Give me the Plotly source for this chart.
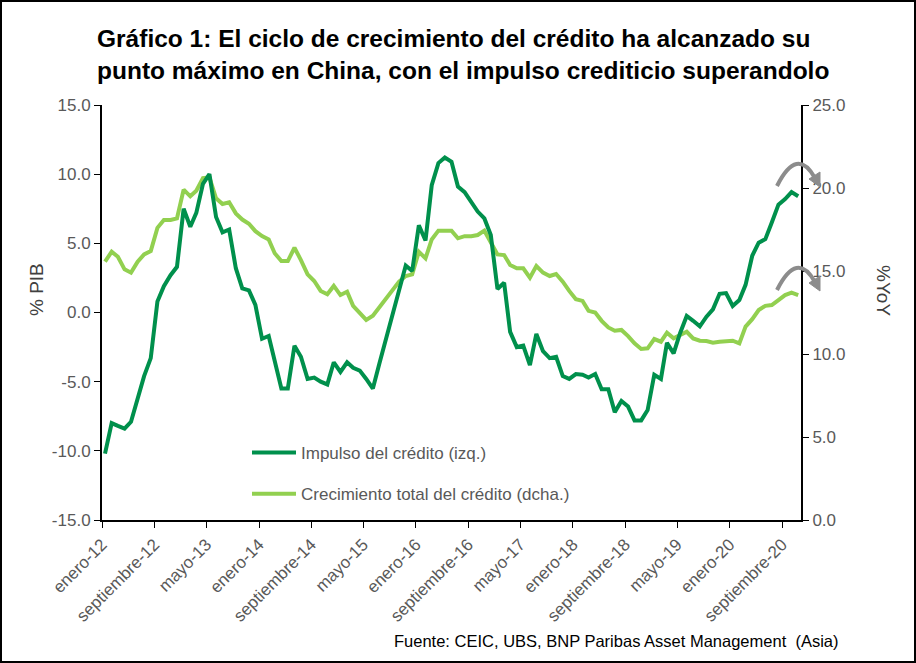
import pandas as pd
import plotly.graph_objects as go

# ---- data ----
impulso = [-10.2, -8.0, -8.2, -8.4, -7.9, -6.1, -4.6, -3.3, 0.8, 1.9,
           2.7, 3.3, 7.5, 6.2, 7.2, 9.3, 10.0, 6.9, 5.8, 6.0,
           3.2, 1.75, 1.6, 0.55, -1.9, -1.7, -3.6, -5.5, -5.5, -2.4,
           -3.2, -4.8, -4.7, -5.0, -5.2, -3.6, -4.3, -3.6, -4.0, -4.2,
           -4.8, -5.5, -3.7, -1.9, -0.1, 1.6, 3.4, 3.0, 6.3, 5.2,
           9.2, 10.8, 11.2, 10.9, 9.1, 8.7, 8.0, 7.3, 6.8, 5.6,
           1.7, 2.15, -1.4, -2.5, -2.4, -3.8, -1.55, -2.8, -3.3, -3.2,
           -4.6, -4.8, -4.45, -4.5, -4.7, -4.45, -5.55, -5.55, -7.2, -6.4,
           -6.8, -7.8, -7.8, -7.05, -4.5, -4.8, -2.2, -2.95, -1.5, -0.25,
           -0.6, -1.0, -0.3, 0.23, 1.35, 1.4, 0.47, 0.9, 2.0, 4.1,
           5.05, 5.3, 6.5, 7.8, 8.2, 8.7, 8.4]
crecimiento = [15.56, 16.16, 15.86, 15.1, 14.9, 15.56, 16.0, 16.2, 17.6, 18.07,
               18.07, 18.17, 19.9, 19.5, 19.84, 20.6, 20.64, 19.38, 19.04, 19.14,
               18.47, 18.1, 17.85, 17.4, 17.1, 16.9, 16.07, 15.6, 15.6, 16.4,
               15.66, 14.8, 14.4, 13.8, 13.6, 14.1, 13.55, 13.75, 12.9, 12.45,
               12.05, 12.3, 12.8, 13.3, 13.9, 14.36, 14.7, 14.8, 16.16, 15.76,
               16.9, 17.43, 17.43, 17.43, 16.97, 17.1, 17.1, 17.17, 17.43, 16.77,
               16.0, 15.96, 15.36, 15.16, 15.16, 14.6, 15.3, 14.9, 14.7, 14.82,
               14.36, 13.8, 13.3, 13.2, 12.6, 12.5, 12.0, 11.6, 11.4, 11.45,
               11.08, 10.64, 10.3, 10.34, 10.9, 10.74, 11.28, 10.94, 11.14, 11.34,
               10.94, 10.8, 10.78, 10.68, 10.74, 10.78, 10.8, 10.64, 11.65, 12.1,
               12.65, 12.9, 12.95, 13.25, 13.55, 13.7, 13.55]
fechas = pd.date_range("2012-01-01", periods=len(impulso), freq="MS") + pd.Timedelta(days=14)
tick_fechas = pd.date_range("2012-01-01", "2020-09-01", freq="8MS")
tick_textos = ["enero-12", "septiembre-12", "mayo-13", "enero-14", "septiembre-14",
               "mayo-15", "enero-16", "septiembre-16", "mayo-17", "enero-18",
               "septiembre-18", "mayo-19", "enero-20", "septiembre-20"]
ticks_izq = [-15, -10, -5, 0, 5, 10, 15]
ticks_dcha = [0, 5, 10, 15, 20, 25]

FONT = "Liberation Sans Narrow, Arial Narrow, Liberation Sans, Arial, sans-serif"
GRAY = "#595959"
DARK = "#00904C"
LIGHT = "#92D050"

fig = go.Figure()
fig.add_trace(go.Scatter(x=fechas, y=crecimiento, mode="lines", name="Crecimiento total del crédito (dcha.)",
                         line=dict(color=LIGHT, width=4), yaxis="y", legendgroup="b", legendrank=2))
fig.add_trace(go.Scatter(x=fechas, y=impulso, mode="lines", name="Impulso del crédito (izq.)",
                         line=dict(color=DARK, width=4), yaxis="y2", legendgroup="a", legendrank=1))

L, R, T, B = 102, 115, 105, 143
W, H = 916, 663
pw, ph = W - L - R, H - T - B


def px(x):
    return (x - L) / pw


def py(y):
    return (H - B - y) / ph


axis_common = dict(showgrid=False, zeroline=False, showline=True, linecolor="black", linewidth=2,
                   ticks="outside", ticklen=6, tickcolor="black", tickwidth=1,
                   tickfont=dict(family=FONT, size=17, color=GRAY))

fig.update_layout(
    width=W, height=H,
    margin=dict(l=L, r=R, t=T, b=B),
    paper_bgcolor="white", plot_bgcolor="white",
    showlegend=True,
    legend=dict(x=px(247), y=py(435), xanchor="left", yanchor="top", traceorder="grouped",
                tracegroupgap=16, itemwidth=44, bgcolor="rgba(0,0,0,0)",
                font=dict(family=FONT, size=17, color=GRAY)),
    xaxis=dict(type="date", range=["2012-01-01", "2020-11-28"], tickvals=tick_fechas, ticktext=tick_textos,
               tickangle=-45, **axis_common),
    yaxis=dict(range=[0, 25], tickvals=ticks_dcha, ticktext=[f"{v:.1f}" for v in ticks_dcha],
               side="right", **axis_common),
    yaxis2=dict(range=[-15, 15], tickvals=ticks_izq, ticktext=[f"{v:.1f}" for v in ticks_izq],
                side="left", overlaying="y", **axis_common),
)

ann = []
ann.append(dict(xref="paper", yref="paper", x=px(95), y=py(23), xanchor="left", yanchor="top", align="left",
                text="<b>Gráfico 1: El ciclo de crecimiento del crédito ha alcanzado su<br>punto máximo en China, con el impulso crediticio superandolo</b>",
                showarrow=False, font=dict(family=FONT, size=24.5, color="black")))
ann.append(dict(xref="paper", yref="paper", x=px(36), y=py(290), xanchor="center", yanchor="middle",
                text="% PIB", textangle=-90, showarrow=False, font=dict(family=FONT, size=19, color="#404040")))
ann.append(dict(xref="paper", yref="paper", x=px(884), y=py(290), xanchor="center", yanchor="middle",
                text="%YoY", textangle=90, showarrow=False, font=dict(family=FONT, size=19, color="#404040")))
ann.append(dict(xref="paper", yref="paper", x=px(840), y=py(641), xanchor="right", yanchor="middle",
                text="Fuente: CEIC, UBS, BNP Paribas Asset Management  (Asia)", showarrow=False,
                font=dict(family=FONT, size=16.5, color="black")))
fig.update_layout(annotations=ann)

shapes = []
# figure border
shapes.append(dict(type="rect", xref="paper", yref="paper", x0=px(1), x1=px(W - 1), y0=py(H - 1), y1=py(1),
                   line=dict(color="black", width=2), fillcolor="rgba(0,0,0,0)", layer="below"))
# curved arrows (decorative)
for dy in (0, 104):
    sx, sy = 777, 186 + dy
    cx, cy = 797, 146 + dy
    ex, ey = 815, 178 + dy
    shapes.append(dict(type="path", xref="paper", yref="paper",
                       path=f"M{px(sx)},{py(sy)} Q{px(cx)},{py(cy)} {px(ex)},{py(ey)}",
                       line=dict(color="#8c8c8c", width=4)))
    shapes.append(dict(type="path", xref="paper", yref="paper",
                       path=f"M{px(ex-6)},{py(ey+1)} L{px(ex+5)},{py(ey-6)} L{px(ex+5)},{py(ey+9)} Z",
                       line=dict(color="#8c8c8c", width=1), fillcolor="#8c8c8c"))
fig.update_layout(shapes=shapes)

fig.write_html("out.html")
